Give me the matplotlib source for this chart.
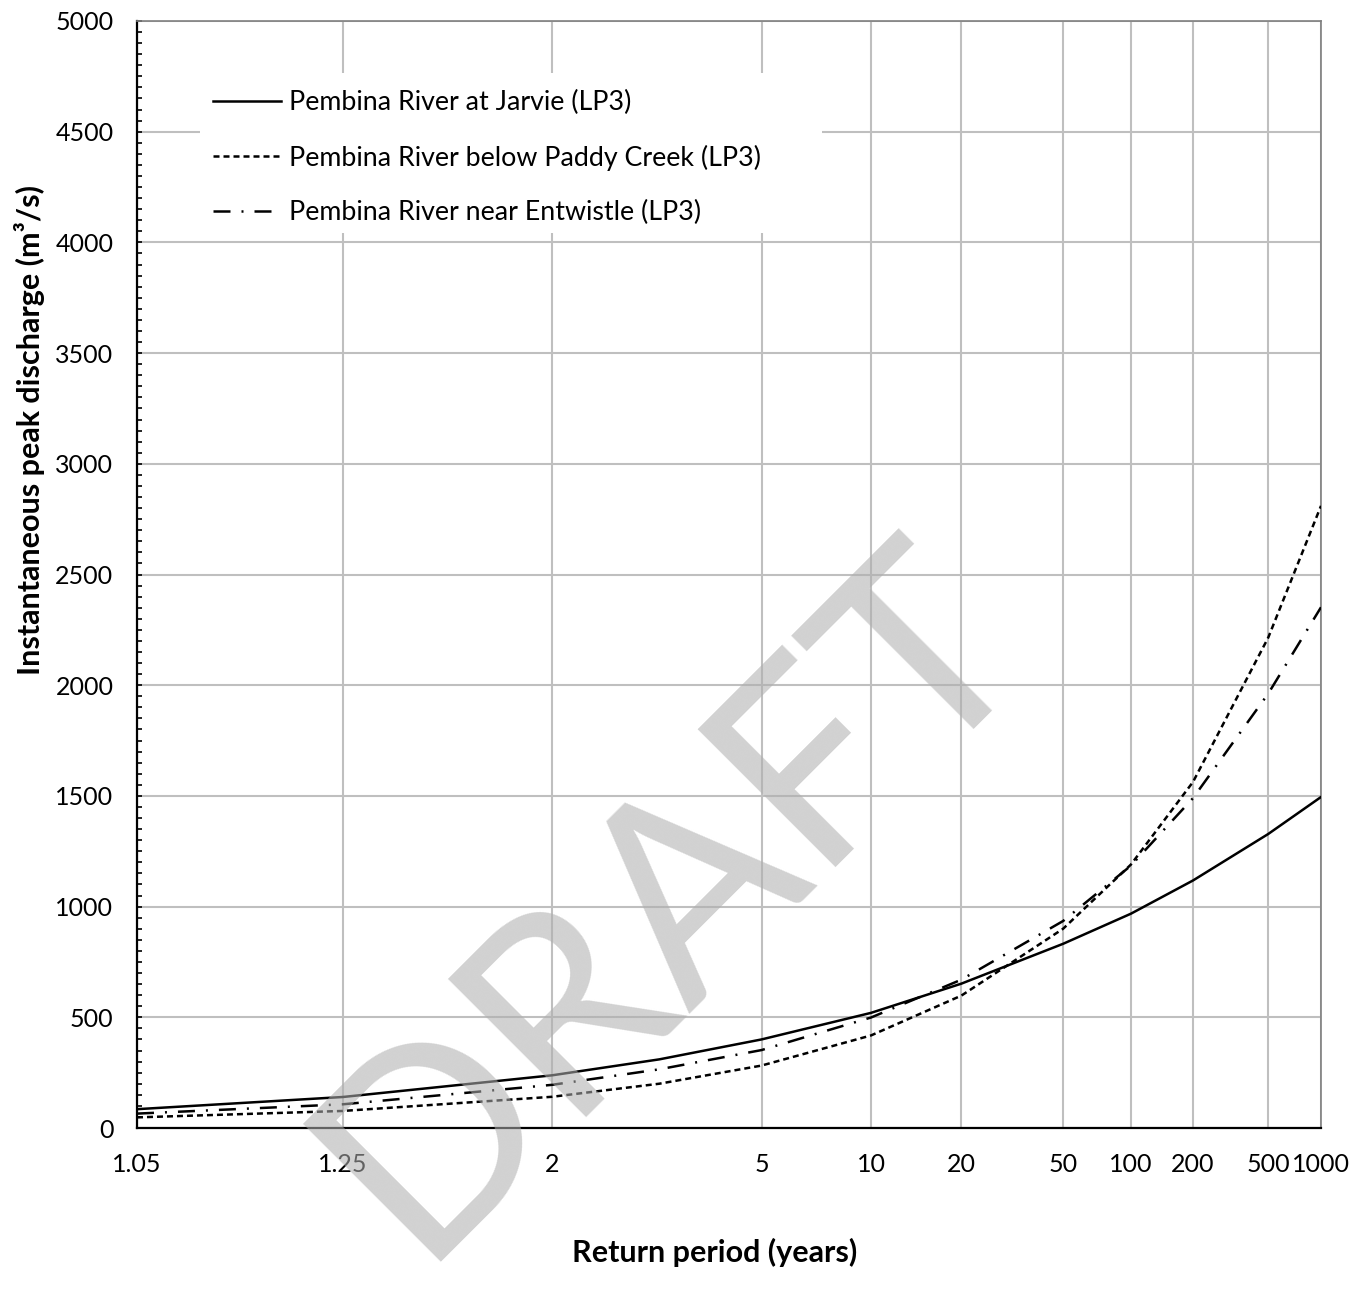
import math

import numpy as np
import matplotlib
matplotlib.use("Agg")
import matplotlib.pyplot as plt
from matplotlib.patches import Rectangle
from matplotlib.ticker import FixedLocator, FixedFormatter, MultipleLocator

plt.rcParams["font.family"] = ["Lato", "DejaVu Sans"]

# Return periods (years) and LP3 peak discharge estimates (m3/s)
return_periods = [1.05, 1.25, 2, 3, 5, 10, 20, 50, 100, 200, 500, 1000]
jarvie = [85, 140, 238, 310, 400, 520, 652, 832, 968, 1118, 1328, 1495]
paddy_creek = [48, 77, 141, 200, 282, 418, 598, 900, 1190, 1563, 2215, 2810]
entwistle = [65, 107, 195, 265, 352, 499, 670, 935, 1185, 1490, 1962, 2352]

series_labels = [
    "Pembina River at Jarvie (LP3)",
    "Pembina River below Paddy Creek (LP3)",
    "Pembina River near Entwistle (LP3)",
]

x_ticks = [1.05, 1.25, 2, 5, 10, 20, 50, 100, 200, 500, 1000]
x_tick_labels = ["1.05", "1.25", "2", "5", "10", "20", "50", "100", "200", "500", "1000"]


# Normal probability scale for return period: z = Phi^-1(1 - 1/T)
_A = [-3.969683028665376e+01, 2.209460984245205e+02, -2.759285104469687e+02,
      1.383577518672690e+02, -3.066479806614716e+01, 2.506628277459239e+00]
_B = [-5.447609879822406e+01, 1.615858368580409e+02, -1.556989798598866e+02,
      6.680131188771972e+01, -1.328068155288572e+01]
_C = [-7.784894002430293e-03, -3.223964580411365e-01, -2.400758277161838e+00,
      -2.549671010115149e+00, 4.374664141464968e+00, 2.938163982698783e+00]
_D = [7.784695709041462e-03, 3.224671290700398e-01, 2.445134137142996e+00,
      3.754408661907416e+00]


def _norm_ppf(p):
    if p < 0.02425:
        q = math.sqrt(-2 * math.log(p))
        return (((((_C[0] * q + _C[1]) * q + _C[2]) * q + _C[3]) * q + _C[4]) * q + _C[5]) / \
            ((((_D[0] * q + _D[1]) * q + _D[2]) * q + _D[3]) * q + 1)
    if p > 1 - 0.02425:
        return -_norm_ppf(1 - p)
    q = p - 0.5
    r = q * q
    return (((((_A[0] * r + _A[1]) * r + _A[2]) * r + _A[3]) * r + _A[4]) * r + _A[5]) * q / \
        (((((_B[0] * r + _B[1]) * r + _B[2]) * r + _B[3]) * r + _B[4]) * r + 1)


def t_to_z(t):
    t = np.asarray(t, dtype=float)
    p = 1 - 1 / np.clip(t, 1.0001, 1e9)
    return np.vectorize(_norm_ppf, otypes=[float])(p)


def z_to_t(z):
    z = np.asarray(z, dtype=float)
    cdf = np.vectorize(lambda v: 0.5 * (1 + math.erf(v / math.sqrt(2))), otypes=[float])(z)
    return 1 / np.clip(1 - cdf, 1e-12, None)


fig = plt.figure(figsize=(13.64, 12.96), dpi=100)
ax = fig.add_axes([137 / 1364, 1 - 1128 / 1296, 1184 / 1364, 1107 / 1296])

ax.set_xscale("function", functions=(t_to_z, z_to_t))
ax.set_xlim(1.05, 1000)
ax.set_ylim(0, 5000)

ax.plot(return_periods, jarvie, color="black", lw=1.8, linestyle="-",
        label=series_labels[0], zorder=3)
ax.plot(return_periods, paddy_creek, color="black", lw=1.8, linestyle=(0, (2.4, 1.6)),
        label=series_labels[1], zorder=3)
ax.plot(return_periods, entwistle, color="black", lw=1.8, linestyle=(0, (6.8, 4.4, 0.8, 4.4)),
        label=series_labels[2], zorder=3)

# Axes, ticks and grid
ax.xaxis.set_major_locator(FixedLocator(x_ticks))
ax.xaxis.set_major_formatter(FixedFormatter(x_tick_labels))
ax.xaxis.set_minor_locator(FixedLocator([]))
ax.yaxis.set_major_locator(MultipleLocator(500))
ax.yaxis.set_minor_locator(MultipleLocator(50))

ax.grid(True, which="major", color="#bfbfbf", lw=1.5)
ax.tick_params(axis="x", length=0, pad=18, labelsize=18)
ax.tick_params(axis="y", which="both", direction="in", length=3.6, width=1.2,
               pad=17, labelsize=18)

for side in ["left", "bottom"]:
    ax.spines[side].set_color("black")
    ax.spines[side].set_linewidth(1.6)
for side in ["top", "right"]:
    ax.spines[side].set_color("#7f7f7f")
    ax.spines[side].set_linewidth(1.2)

# White panel behind the legend
ax.add_patch(Rectangle((63 / 1184, (1128 - 233) / 1107), 622 / 1184, 160 / 1107,
                       transform=ax.transAxes, facecolor="white", edgecolor="none",
                       zorder=1.8))

ax.legend(loc="upper left", bbox_to_anchor=(76 / 1184, (1128 - 90) / 1107),
          frameon=False, fontsize=19.3, handlelength=2.55, handletextpad=0.28,
          labelspacing=1.1, borderpad=0, borderaxespad=0)

fig.text(715 / 1364, 1 - 1252 / 1296, "Return period (years)", ha="center", va="center",
         fontsize=22, fontweight="bold")
fig.text(30 / 1364, 1 - 430 / 1296, "Instantaneous peak discharge (m³/s)", ha="center",
         va="center", rotation=90, fontsize=22, fontweight="bold")

# Watermark
fig.text(724 / 1364, 1 - 953 / 1296, "DRAFT", ha="center", va="baseline", rotation=45,
         rotation_mode="anchor", fontsize=195, color="#afafaf", alpha=0.57, zorder=10)

fig.savefig("out.png", dpi=100)
